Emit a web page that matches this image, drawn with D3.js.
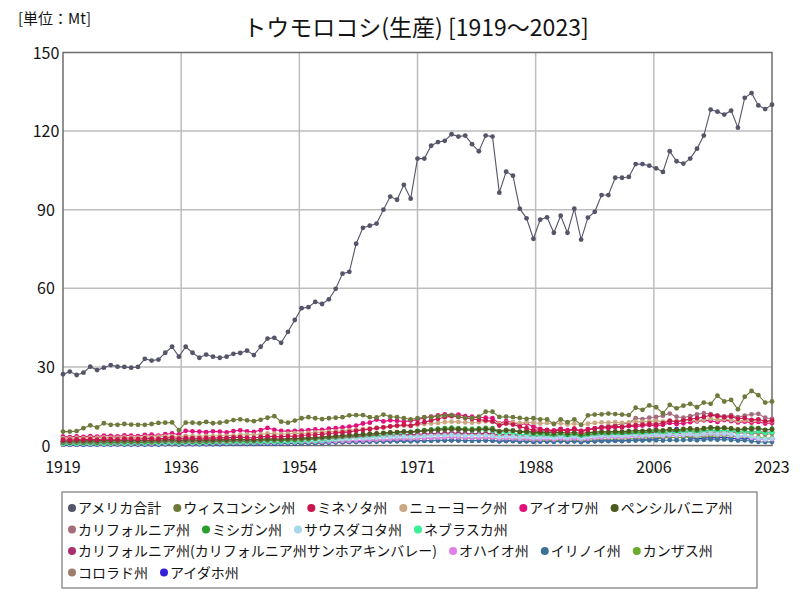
<!DOCTYPE html>
<html>
<head>
<meta charset="utf-8">
<script src="https://cdn.jsdelivr.net/npm/d3@7"></script>
<style>
  body { margin: 0; background: #fff; }
  svg { font-family: "Noto Sans CJK JP", "Noto Sans", sans-serif; }
  text { opacity: 0.99; }
</style>
</head>
<body>
<svg id="chart" width="800" height="600"></svg>
<script>
// years 1919..2023
var years = d3.range(1919, 2024);

var seriesNames = ["アメリカ合計", "ウィスコンシン州", "ミネソタ州", "ニューヨーク州", "アイオワ州", "ペンシルバニア州",
  "カリフォルニア州", "ミシガン州", "サウスダコタ州", "ネブラスカ州",
  "カリフォルニア州(カリフォルニア州サンホアキンバレー)", "オハイオ州", "イリノイ州", "カンザス州",
  "コロラド州", "アイダホ州"];
var seriesColors = ["#55556a", "#6e7a3c", "#c8174c", "#c9a882", "#e2107a", "#4b5a1e",
  "#a46c7c", "#2a9e2a", "#a8d6ea", "#38ef9a",
  "#a8306e", "#e27ee8", "#3c7296", "#6aaa2c", "#a07c6e", "#3322d6"];

var usTotal = [27.2,
  28.2, 26.9, 27.8, 30.1, 28.8, 29.7, 30.7, 30.1, 30.0, 29.7,
  30.0, 33.1, 32.4, 32.8, 35.4, 37.7, 33.9, 37.7, 35.4, 33.5,
  34.7, 33.9, 33.5, 33.9, 35.0, 35.3, 36.2, 34.5, 37.7, 40.8,
  41.1, 39.2, 43.4, 47.9, 52.4, 52.8, 54.8, 54.0, 55.8, 59.8,
  65.6, 66.3, 77.0, 83.1, 83.9, 84.7, 90.0, 95.0, 93.8, 99.5,
  94.2, 109.5, 109.5, 114.4, 115.8, 116.3, 118.8, 117.9, 118.3, 115.0,
  112.3, 118.3, 117.9, 96.5, 104.5, 103.0, 90.4, 86.7, 78.9, 86.2,
  87.1, 81.2, 87.7, 81.2, 90.4, 78.6, 87.0, 89.2, 95.6, 95.6,
  102.2, 102.2, 102.5, 107.4, 107.4, 106.8, 105.8, 104.4, 112.3, 108.5,
  107.6, 109.5, 113.3, 118.3, 128.2, 127.4, 126.3, 127.8, 121.3, 132.7,
  134.5, 129.8, 128.4, 130.1];

var wisconsin = [5.3,
  5.3, 5.5, 6.6, 7.7, 6.9, 8.5, 7.9, 7.9, 8.2, 8.0,
  7.9, 7.9, 8.2, 8.6, 8.7, 8.8, 5.9, 8.7, 8.7, 8.5,
  9.0, 8.5, 8.7, 9.1, 9.7, 10.0, 9.6, 9.3, 9.8, 10.6,
  11.2, 9.1, 8.7, 9.5, 10.4, 10.8, 10.4, 10.1, 10.4, 10.6,
  10.8, 11.5, 11.6, 11.6, 10.8, 10.7, 11.8, 11.0, 10.8, 10.4,
  10.0, 10.4, 10.8, 10.8, 11.2, 11.4, 11.6, 11.0, 10.6, 10.5,
  11.0, 12.9, 12.9, 10.9, 11.0, 10.8, 10.5, 10.2, 10.4, 10.0,
  10.0, 8.2, 10.0, 8.9, 10.0, 7.9, 11.5, 11.8, 11.9, 12.2,
  12.0, 11.8, 11.6, 14.4, 13.6, 15.3, 14.6, 12.3, 15.5, 14.2,
  15.2, 15.9, 14.6, 16.4, 15.9, 19.0, 16.8, 17.4, 13.8, 18.6,
  20.8, 19.2, 16.4, 16.8];

var minnesota = [2.2,
  2.1, 2.3, 2.2, 2.4, 2.2, 2.5, 2.4, 2.3, 2.6, 2.5,
  2.4, 2.7, 2.6, 2.5, 2.8, 3.0, 2.6, 2.9, 2.8, 2.7,
  2.9, 2.8, 3.0, 2.9, 3.1, 3.2, 3.0, 2.9, 3.3, 3.5,
  3.4, 3.3, 3.6, 3.5, 3.8, 4.0, 4.1, 4.3, 4.6, 4.8,
  5.0, 5.2, 5.6, 5.9, 6.2, 6.6, 6.9, 7.3, 7.6, 7.9,
  7.6, 8.4, 8.9, 9.6, 10.2, 10.8, 11.2, 10.9, 10.5, 10.1,
  9.8, 9.6, 9.2, 7.6, 8.4, 8.0, 7.2, 6.6, 5.8, 6.0,
  5.9, 5.4, 6.1, 5.5, 6.3, 5.2, 6.0, 6.4, 6.9, 7.1,
  7.3, 7.1, 7.6, 7.8, 8.0, 8.3, 8.1, 8.5, 9.4, 9.0,
  9.6, 10.1, 10.4, 10.9, 11.6, 11.2, 10.8, 11.0, 10.2, 10.5,
  9.8, 10.0, 9.2, 9.5];

var newYork = [2.8,
  2.7, 2.9, 2.8, 3.0, 2.9, 3.1, 3.0, 3.0, 3.2, 3.1,
  3.0, 3.3, 3.2, 3.4, 3.5, 3.6, 3.2, 3.7, 3.6, 3.5,
  3.7, 3.6, 3.8, 3.7, 3.9, 4.0, 4.2, 4.0, 4.3, 4.6,
  4.5, 4.3, 4.5, 4.7, 4.6, 4.8, 5.0, 5.1, 5.3, 5.4,
  5.6, 5.8, 6.0, 6.3, 6.5, 6.8, 7.0, 7.2, 7.4, 7.6,
  7.4, 7.9, 8.2, 8.4, 8.6, 8.9, 9.1, 9.0, 8.8, 8.7,
  8.9, 9.2, 9.0, 8.3, 8.6, 8.8, 8.5, 8.9, 8.7, 8.4,
  8.6, 8.2, 8.5, 8.0, 8.4, 7.9, 8.3, 8.6, 8.8, 8.7,
  8.9, 8.6, 8.8, 9.1, 9.0, 9.2, 9.4, 9.1, 9.5, 9.3,
  9.6, 9.8, 9.4, 9.9, 10.2, 9.8, 10.1, 9.7, 9.3, 9.6,
  9.4, 9.7, 9.1, 9.3];

var iowa = [3.4,
  3.2, 3.5, 3.3, 3.6, 3.4, 3.8, 3.7, 3.5, 3.9, 3.8,
  3.6, 4.0, 4.1, 3.8, 4.3, 4.6, 4.2, 5.6, 5.4, 5.3,
  5.1, 5.4, 5.3, 5.0, 5.5, 5.8, 5.4, 5.2, 5.9, 6.7,
  6.0, 5.6, 5.4, 5.6, 5.7, 5.9, 6.1, 6.0, 6.4, 6.6,
  6.9, 7.2, 7.6, 8.4, 8.7, 9.9, 9.2, 9.6, 9.4, 9.1,
  9.5, 9.8, 10.6, 11.0, 11.5, 11.9, 11.6, 11.8, 11.2, 11.0,
  10.8, 10.6, 10.4, 8.4, 9.3, 8.8, 7.9, 8.4, 7.2, 6.3,
  6.0, 5.8, 6.3, 5.9, 6.4, 5.6, 6.2, 6.5, 6.8, 6.6,
  7.0, 6.9, 7.4, 7.2, 7.6, 7.8, 7.5, 7.9, 8.6, 8.2,
  8.5, 8.9, 9.2, 9.6, 9.4, 9.0, 9.7, 9.3, 8.8, 9.1,
  8.7, 9.0, 8.4, 8.6];

var pennsylvania = [1.8,
  1.7, 1.9, 1.8, 1.9, 1.8, 2.0, 1.9, 1.9, 2.0, 2.0,
  1.9, 2.1, 2.0, 2.1, 2.2, 2.3, 2.0, 2.2, 2.2, 2.1,
  2.2, 2.1, 2.3, 2.2, 2.3, 2.4, 2.3, 2.2, 2.4, 2.5,
  2.5, 2.4, 2.6, 2.7, 2.8, 2.9, 3.0, 3.2, 3.4, 3.6,
  3.8, 4.0, 4.1, 4.3, 4.5, 4.6, 4.8, 5.0, 5.1, 5.3,
  5.2, 5.5, 5.6, 5.8, 6.0, 6.1, 6.3, 6.2, 6.0, 5.9,
  6.1, 6.2, 6.0, 5.3, 5.7, 5.6, 5.2, 5.4, 5.0, 5.1,
  5.0, 4.8, 5.1, 4.7, 5.0, 4.6, 4.9, 5.1, 5.3, 5.2,
  5.4, 5.3, 5.5, 5.7, 5.6, 5.8, 6.0, 5.8, 6.2, 6.0,
  6.3, 6.5, 6.2, 6.6, 6.9, 6.7, 6.8, 6.5, 6.1, 6.4,
  6.2, 6.5, 5.9, 6.1];

var california = [1.4,
  1.3, 1.5, 1.4, 1.5, 1.4, 1.6, 1.5, 1.5, 1.6, 1.6,
  1.5, 1.7, 1.6, 1.7, 1.8, 1.9, 1.6, 1.8, 1.8, 1.7,
  1.8, 1.8, 1.9, 1.9, 2.0, 2.1, 2.0, 2.0, 2.2, 2.3,
  2.3, 2.2, 2.4, 2.5, 2.6, 2.7, 2.9, 3.0, 3.2, 3.4,
  3.5, 3.7, 3.9, 4.1, 4.3, 4.5, 4.6, 4.8, 5.0, 5.1,
  5.0, 5.3, 5.5, 5.7, 5.8, 6.0, 6.1, 6.0, 5.9, 5.8,
  6.0, 6.2, 6.1, 5.4, 5.8, 5.7, 5.3, 5.6, 5.2, 5.5,
  5.6, 5.3, 5.8, 5.5, 6.0, 5.6, 6.2, 6.5, 7.0, 7.3,
  7.8, 8.2, 8.6, 10.4, 10.1, 10.6, 10.9, 11.4, 12.2, 11.0,
  10.6, 11.2, 11.9, 12.3, 12.0, 11.5, 11.1, 11.6, 10.8, 11.4,
  11.9, 12.1, 10.6, 10.2];

var michigan = [1.0,
  1.0, 1.1, 1.0, 1.1, 1.0, 1.2, 1.1, 1.1, 1.2, 1.2,
  1.1, 1.3, 1.2, 1.3, 1.4, 1.5, 1.2, 1.4, 1.4, 1.3,
  1.4, 1.4, 1.5, 1.5, 1.6, 1.7, 1.6, 1.6, 1.8, 1.9,
  1.9, 1.8, 2.0, 2.1, 2.2, 2.3, 2.5, 2.7, 2.9, 3.1,
  3.3, 3.5, 3.7, 3.9, 4.1, 4.3, 4.6, 4.8, 5.0, 5.3,
  5.1, 5.6, 5.9, 6.1, 6.4, 6.6, 6.8, 6.6, 6.4, 6.3,
  6.5, 6.7, 6.6, 5.5, 6.0, 5.8, 5.2, 5.0, 4.5, 4.6,
  4.4, 4.2, 4.6, 4.1, 4.5, 3.9, 4.3, 4.6, 4.8, 4.7,
  4.9, 4.8, 5.0, 5.2, 5.1, 5.3, 5.6, 5.4, 5.8, 5.6,
  5.9, 6.1, 5.7, 6.2, 6.5, 6.3, 6.6, 6.4, 5.9, 6.2,
  6.8, 6.6, 6.0, 6.3];

var southDakota = [0.9,
  0.9, 1.0, 0.9, 1.0, 1.0, 1.1, 1.0, 1.0, 1.1, 1.1,
  1.0, 1.2, 1.1, 1.1, 1.2, 1.3, 1.1, 1.2, 1.3, 1.2,
  1.3, 1.3, 1.4, 1.3, 1.4, 1.5, 1.5, 1.4, 1.6, 1.7,
  1.7, 1.6, 1.8, 1.9, 2.0, 2.0, 2.1, 2.2, 2.3, 2.4,
  2.5, 2.6, 2.7, 2.8, 2.9, 3.0, 3.1, 3.2, 3.3, 3.4,
  3.3, 3.5, 3.6, 3.7, 3.8, 3.9, 4.0, 3.9, 3.8, 3.7,
  3.8, 3.9, 3.7, 3.2, 3.5, 3.4, 3.1, 3.3, 3.0, 3.1,
  3.2, 2.9, 3.3, 2.9, 3.4, 2.8, 3.2, 3.4, 3.6, 3.5,
  3.7, 3.6, 3.8, 3.9, 3.8, 4.0, 4.1, 3.9, 4.3, 4.1,
  4.2, 4.4, 4.0, 4.5, 4.7, 4.4, 4.6, 4.3, 3.6, 3.9,
  3.2, 2.8, 2.4, 2.6];

var nebraska = [0.6,
  0.6, 0.6, 0.7, 0.6, 0.7, 0.7, 0.7, 0.8, 0.7, 0.8,
  0.8, 0.8, 0.9, 0.8, 0.9, 1.0, 0.8, 1.0, 1.0, 0.9,
  1.0, 1.0, 1.1, 1.0, 1.1, 1.2, 1.1, 1.1, 1.2, 1.3,
  1.3, 1.2, 1.4, 1.4, 1.5, 1.6, 1.7, 1.8, 2.0, 2.2,
  2.4, 2.6, 2.8, 3.0, 3.3, 3.6, 3.9, 4.2, 4.5, 4.8,
  5.0, 5.4, 5.6, 5.9, 6.2, 6.5, 6.3, 6.1, 5.9, 5.6,
  5.8, 6.0, 5.7, 4.6, 5.0, 4.8, 4.2, 4.0, 3.6, 3.8,
  3.7, 3.4, 3.8, 3.5, 3.9, 3.3, 3.7, 3.9, 4.1, 4.0,
  4.2, 4.1, 4.3, 4.4, 4.6, 4.5, 4.7, 4.8, 5.0, 4.9,
  5.1, 5.3, 5.0, 5.4, 5.7, 5.5, 5.8, 5.6, 5.2, 5.4,
  5.0, 5.3, 4.8, 5.0];

var sanJoaquin = [1.6,
  1.5, 1.7, 1.6, 1.7, 1.6, 1.8, 1.7, 1.7, 1.8, 1.8,
  1.7, 1.9, 1.8, 1.9, 2.0, 2.1, 1.8, 2.0, 2.0, 1.9,
  2.0, 2.0, 2.1, 2.1, 2.2, 2.3, 2.2, 2.2, 2.4, 2.5,
  2.5, 2.4, 2.6, 2.7, 2.7, 2.8, 2.9, 3.0, 3.1, 3.2,
  3.3, 3.4, 3.5, 3.6, 3.7, 3.8, 3.9, 4.0, 4.1, 4.2,
  4.1, 4.3, 4.4, 4.5, 4.6, 4.7, 4.8, 4.7, 4.6, 4.5,
  4.6, 4.7, 4.5, 4.0, 4.3, 4.2, 3.9, 4.1, 3.8, 3.9,
  4.0, 3.7, 4.1, 3.8, 4.2, 3.6, 4.0, 4.2, 4.4, 4.3,
  4.5, 4.4, 4.6, 4.7, 4.8, 4.9, 5.0, 4.8, 5.2, 5.0,
  5.3, 5.5, 5.2, 5.6, 5.8, 5.6, 5.9, 5.7, 5.3, 5.5,
  5.1, 5.4, 4.9, 5.1];

var ohio = [0.5,
  0.5, 0.5, 0.6, 0.5, 0.6, 0.6, 0.6, 0.6, 0.7, 0.6,
  0.7, 0.7, 0.7, 0.7, 0.8, 0.8, 0.7, 0.8, 0.8, 0.8,
  0.8, 0.9, 0.9, 0.9, 1.0, 1.0, 1.0, 1.0, 1.1, 1.1,
  1.1, 1.1, 1.2, 1.2, 1.3, 1.3, 1.4, 1.4, 1.5, 1.6,
  1.7, 1.8, 1.9, 2.0, 2.1, 2.2, 2.3, 2.4, 2.5, 2.6,
  2.5, 2.7, 2.8, 2.9, 3.0, 3.1, 3.2, 3.1, 3.0, 2.9,
  3.0, 3.1, 3.0, 2.6, 2.8, 2.7, 2.5, 2.6, 2.3, 2.4,
  2.5, 2.3, 2.6, 2.4, 2.7, 2.3, 2.6, 2.8, 3.0, 3.1,
  3.2, 3.1, 3.3, 3.5, 3.4, 3.6, 3.8, 3.5, 3.9, 3.7,
  3.9, 4.1, 3.8, 4.2, 4.4, 4.1, 4.3, 4.0, 3.4, 3.7,
  2.9, 2.5, 2.2, 2.4];

var illinois = [0.4,
  0.4, 0.4, 0.4, 0.5, 0.4, 0.5, 0.5, 0.5, 0.5, 0.5,
  0.5, 0.5, 0.6, 0.5, 0.6, 0.6, 0.5, 0.6, 0.6, 0.6,
  0.6, 0.6, 0.7, 0.7, 0.7, 0.7, 0.7, 0.7, 0.8, 0.8,
  0.8, 0.8, 0.9, 0.9, 0.9, 1.0, 1.0, 1.1, 1.1, 1.2,
  1.2, 1.3, 1.3, 1.4, 1.4, 1.5, 1.5, 1.6, 1.6, 1.7,
  1.6, 1.7, 1.8, 1.8, 1.9, 1.9, 2.0, 1.9, 1.9, 1.8,
  1.9, 1.9, 1.8, 1.6, 1.7, 1.7, 1.5, 1.6, 1.4, 1.5,
  1.5, 1.4, 1.6, 1.4, 1.6, 1.3, 1.5, 1.6, 1.7, 1.7,
  1.8, 1.7, 1.8, 1.9, 1.9, 2.0, 2.0, 1.9, 2.1, 2.0,
  2.1, 2.2, 2.0, 2.2, 2.3, 2.2, 2.3, 2.1, 1.9, 2.0,
  1.6, 1.4, 1.3, 1.4];

var kansas = [0.8,
  0.8, 0.9, 0.8, 0.9, 0.8, 0.9, 0.9, 0.9, 1.0, 0.9,
  0.9, 1.0, 1.0, 1.0, 0.9, 0.8, 0.7, 0.9, 1.0, 1.0,
  1.0, 1.1, 1.1, 1.1, 1.2, 1.2, 1.2, 1.1, 1.3, 1.3,
  1.3, 1.2, 1.2, 1.1, 1.0, 1.1, 1.0, 1.2, 1.4, 1.5,
  1.6, 1.7, 1.8, 1.9, 2.0, 2.1, 2.2, 2.3, 2.4, 2.5,
  2.4, 2.6, 2.7, 2.8, 2.9, 3.0, 3.1, 3.0, 2.9, 2.8,
  2.9, 3.0, 2.9, 2.4, 2.6, 2.5, 2.2, 2.3, 2.0, 2.1,
  2.0, 1.8, 2.1, 1.9, 2.2, 1.7, 2.0, 2.2, 2.4, 2.3,
  2.5, 2.4, 2.6, 2.7, 2.8, 2.9, 3.0, 2.8, 3.2, 3.0,
  3.2, 3.4, 3.1, 3.5, 3.7, 3.5, 3.8, 3.6, 3.2, 3.4,
  3.0, 3.2, 2.7, 2.9];

var colorado = [1.2,
  1.2, 1.3, 1.2, 1.3, 1.2, 1.4, 1.3, 1.3, 1.4, 1.4,
  1.3, 1.5, 1.4, 1.5, 1.6, 1.6, 1.4, 1.6, 1.6, 1.5,
  1.6, 1.6, 1.7, 1.7, 1.8, 1.8, 1.8, 1.7, 1.9, 2.0,
  2.0, 1.9, 2.1, 2.1, 2.2, 2.3, 2.4, 2.5, 2.6, 2.7,
  2.8, 2.9, 3.0, 3.1, 3.2, 3.3, 3.4, 3.5, 3.6, 3.7,
  3.6, 3.8, 3.9, 4.0, 4.1, 4.2, 4.3, 4.2, 4.1, 4.0,
  4.1, 4.2, 4.0, 3.5, 3.8, 3.7, 3.4, 3.6, 3.3, 3.4,
  3.5, 3.2, 3.6, 3.3, 3.7, 3.1, 3.5, 3.7, 3.9, 3.8,
  4.0, 3.9, 4.1, 4.2, 4.3, 4.4, 4.5, 4.3, 4.7, 4.5,
  4.7, 4.9, 4.6, 5.0, 5.2, 5.0, 5.3, 5.1, 4.7, 4.9,
  4.5, 4.8, 4.3, 4.5];

var idaho = [0.3,
  0.3, 0.3, 0.3, 0.3, 0.4, 0.4, 0.4, 0.4, 0.4, 0.4,
  0.4, 0.4, 0.4, 0.4, 0.5, 0.5, 0.4, 0.5, 0.5, 0.5,
  0.5, 0.5, 0.5, 0.6, 0.6, 0.6, 0.6, 0.6, 0.7, 0.7,
  0.7, 0.7, 0.8, 0.8, 0.9, 0.9, 1.0, 1.0, 1.1, 1.2,
  1.3, 1.4, 1.5, 1.5, 1.6, 1.6, 1.7, 1.7, 1.8, 1.8,
  1.8, 1.9, 1.9, 1.9, 2.0, 2.0, 2.0, 2.0, 1.9, 1.9,
  1.9, 2.0, 1.9, 1.7, 1.8, 1.8, 1.6, 1.7, 1.5, 1.6,
  1.6, 1.5, 1.7, 1.5, 1.7, 1.4, 1.6, 1.7, 1.8, 1.8,
  1.9, 1.8, 2.0, 2.1, 2.2, 2.3, 2.5, 3.0, 4.2, 6.2,
  3.6, 3.0, 2.6, 2.8, 3.0, 2.9, 3.1, 2.8, 2.5, 2.7,
  2.4, 2.6, 2.3, 2.5];

var yTicks = [0, 30, 60, 90, 120, 150];
var xTicks = [1919, 1936, 1954, 1971, 1988, 2006, 2023];

var seriesValues = [usTotal, wisconsin, minnesota, newYork, iowa, pennsylvania,
  california, michigan, southDakota, nebraska, sanJoaquin, ohio, illinois, kansas,
  colorado, idaho];

var series = seriesNames.map(function(n, i) {
  return { name: n, color: seriesColors[i], values: seriesValues[i] };
});

var svg = d3.select("#chart");
var plotLeft = 63, plotRight = 772, plotTop = 52.5, plotBottom = 445.5;

var x = d3.scaleLinear().domain([1919, 2023]).range([plotLeft, plotRight]);
var y = d3.scaleLinear().domain([0, 150]).range([plotBottom, plotTop]);

// grid lines (x grid is at even sixths of the range, labels are rounded)
var xGrid = d3.range(7).map(function(i) { return 1919 + i * 104 / 6; });

svg.append("g").selectAll("line")
  .data(xGrid.slice(1, 6))
  .enter().append("line")
  .attr("x1", function(d) { return x(d); })
  .attr("x2", function(d) { return x(d); })
  .attr("y1", plotTop).attr("y2", plotBottom)
  .attr("stroke", "#bdbdbd").attr("stroke-width", 1.5);

svg.append("g").selectAll("line")
  .data(yTicks.slice(1, 5))
  .enter().append("line")
  .attr("x1", plotLeft).attr("x2", plotRight)
  .attr("y1", function(d) { return y(d); })
  .attr("y2", function(d) { return y(d); })
  .attr("stroke", "#bdbdbd").attr("stroke-width", 1.5);

// frame
svg.append("rect")
  .attr("x", plotLeft).attr("y", plotTop)
  .attr("width", plotRight - plotLeft).attr("height", plotBottom - plotTop)
  .attr("fill", "none").attr("stroke", "#6e6e6e").attr("stroke-width", 1.5);

// tick labels
svg.append("g").selectAll("text")
  .data(yTicks)
  .enter().append("text")
  .attr("x", 46).attr("y", function(d) { return y(d) + 6; })
  .attr("text-anchor", "middle")
  .attr("font-size", 16).attr("fill", "#111")
  .text(function(d) { return d; });

svg.append("g").selectAll("text")
  .data(xGrid)
  .enter().append("text")
  .attr("x", function(d) { return x(d); })
  .attr("y", 473)
  .attr("text-anchor", "middle")
  .attr("font-size", 16).attr("fill", "#111")
  .text(function(d, i) { return xTicks[i]; });

// lines + points, states first, total on top
var line = d3.line()
  .x(function(d, i) { return x(years[i]); })
  .y(function(d) { return y(d); });

var drawOrder = series.slice(1).reverse().concat([series[0]]);

var g = svg.append("g").selectAll("g")
  .data(drawOrder)
  .enter().append("g");

g.append("path")
  .attr("d", function(d) { return line(d.values); })
  .attr("fill", "none")
  .attr("stroke", function(d) { return d.color; })
  .attr("stroke-width", 1.1);

g.selectAll("circle")
  .data(function(d) { return d.values.map(function(v) { return { v: v, c: d.color }; }); })
  .enter().append("circle")
  .attr("cx", function(d, i) { return x(years[i]); })
  .attr("cy", function(d) { return y(d.v); })
  .attr("r", 2.4)
  .attr("fill", function(d) { return d.c; });

// titles
svg.append("text")
  .attr("x", 18).attr("y", 24)
  .attr("font-size", 15).attr("fill", "#111")
  .text("[単位：Mt]");

svg.append("text")
  .attr("x", 416).attr("y", 36)
  .attr("text-anchor", "middle")
  .attr("font-size", 23).attr("fill", "#111")
  .text("トウモロコシ(生産) [1919～2023]");

// legend (flow layout)
var legX = 62, legY = 492, legW = 695, legH = 96;
svg.append("rect")
  .attr("x", legX).attr("y", legY).attr("width", legW).attr("height", legH)
  .attr("fill", "#fff").attr("stroke", "#777").attr("stroke-width", 1.2);

var lg = svg.append("g");
var cx = legX + 6, row = 0, rowH = 21.5, maxX = legX + legW - 4;
series.forEach(function(s) {
  var item = lg.append("g");
  item.append("circle").attr("cx", 4).attr("cy", 0).attr("r", 4).attr("fill", s.color);
  var t = item.append("text").attr("x", 10).attr("y", 5)
    .attr("font-size", 14).attr("fill", "#111").text(s.name);
  var w = 10 + t.node().getComputedTextLength();
  if (cx + w > maxX) { row++; cx = legX + 6; }
  item.attr("transform", "translate(" + cx + "," + (legY + 16 + row * rowH) + ")");
  cx += w + 12;
});
</script>
</body>
</html>
